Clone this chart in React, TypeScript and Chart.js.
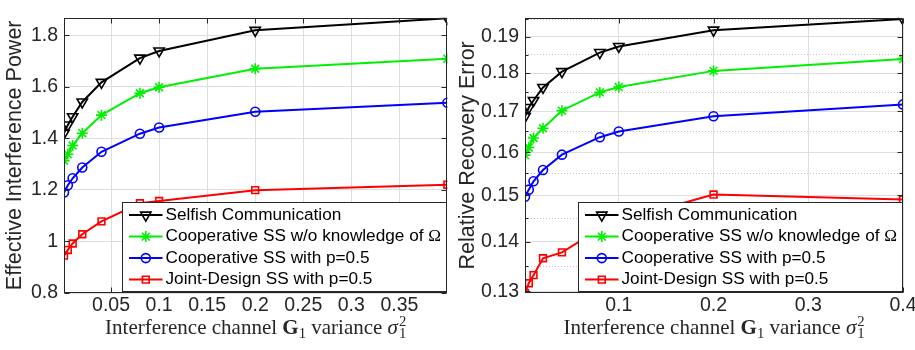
import React, { useEffect, useRef } from 'react';
import { Chart, registerables } from 'chart.js';

Chart.register(...registerables);

// ---------- data ----------
const sigma2 = [0.001, 0.005, 0.01, 0.02, 0.04, 0.08, 0.1, 0.2, 0.4];

const seriesLabels = [
  'Selfish Communication',
  'Cooperative SS w/o knowledge of Ω',
  'Cooperative SS with p=0.5',
  'Joint-Design SS with p=0.5',
];

// left panel: effective interference power
const selfishPower = [1.42, 1.452, 1.484, 1.541, 1.617, 1.711, 1.739, 1.819, 1.866];
const coopNoKnowPower = [1.313, 1.338, 1.372, 1.42, 1.49, 1.575, 1.598, 1.67, 1.709];
const coopPower = [1.19, 1.218, 1.245, 1.287, 1.348, 1.418, 1.442, 1.503, 1.538];
const jointPower = [0.945, 0.967, 0.992, 1.028, 1.078, 1.148, 1.157, 1.199, 1.22];

// right panel: relative recovery error (log y)
const selfishErr = [0.1687, 0.171, 0.1728, 0.1762, 0.1804, 0.1856, 0.1873, 0.1919, 0.1951];
const coopNoKnowErr = [0.1593, 0.1611, 0.1634, 0.1658, 0.1702, 0.1749, 0.1763, 0.1806, 0.1838];
const coopErr = [0.1497, 0.1513, 0.1532, 0.1558, 0.1594, 0.1636, 0.165, 0.1688, 0.1718];
const jointErr = [0.1297, 0.1316, 0.1332, 0.1366, 0.1378, 0.1427, 0.1444, 0.1502, 0.1491];

const powerYTicks = [0.8, 1, 1.2, 1.4, 1.6, 1.8];
const powerXTicks = [0.05, 0.1, 0.15, 0.2, 0.25, 0.3, 0.35];
const errorYTicks = [0.13, 0.14, 0.15, 0.16, 0.17, 0.18, 0.19];
const errorYMinorTicks = [0.135, 0.145, 0.155, 0.165, 0.175, 0.185, 0.195];
const errorXTicks = [0.1, 0.2, 0.3, 0.4];

const yTitleLeft = 'Effective Interference Power';
const yTitleRight = 'Relative Recovery Error';
const xTitleParts = ['Interference channel ', 'G', '1', ' variance ', 'σ', '1', '2'];

// ---------- styles ----------
const SANS = '"Liberation Sans", Arial, Helvetica, sans-serif';
const SERIF = '"Liberation Serif", "Times New Roman", serif';
const AXIS = '#262626';
const GRID = '#dedede';
const MINOR_GRID = '#c4c4c4';

const seriesStyle = [
  { color: '#000000', point: 'triangle', rot: 180, r: 6 },
  { color: '#00f000', point: 'star', rot: 0, r: 5.5 },
  { color: '#0000ff', point: 'circle', rot: 0, r: 4.5 },
  { color: '#ff0000', point: 'rect', rot: 0, r: 4.8 },
];

function makeDatasets(series: number[][]) {
  return series.map((vals, i) => ({
    label: seriesLabels[i],
    data: sigma2.map((x, j) => ({ x, y: vals[j] })),
    borderColor: seriesStyle[i].color,
    backgroundColor: seriesStyle[i].color,
    borderWidth: 2,
    pointStyle: seriesStyle[i].point,
    pointRotation: seriesStyle[i].rot,
    pointRadius: seriesStyle[i].r,
    pointBorderWidth: 1.6,
    pointBorderColor: seriesStyle[i].color,
    pointBackgroundColor: 'rgba(0,0,0,0)',
    tension: 0,
  }));
}

function drawMarker(ctx: CanvasRenderingContext2D, style: string, x: number, y: number, r: number) {
  ctx.beginPath();
  if (style === 'triangle') {
    const s = r * Math.sin(Math.PI / 3);
    ctx.moveTo(x, y + r);
    ctx.lineTo(x - s, y - r / 2);
    ctx.lineTo(x + s, y - r / 2);
    ctx.closePath();
  } else if (style === 'star') {
    const d = r * Math.SQRT1_2;
    ctx.moveTo(x, y - r);
    ctx.lineTo(x, y + r);
    ctx.moveTo(x - r, y);
    ctx.lineTo(x + r, y);
    ctx.moveTo(x - d, y - d);
    ctx.lineTo(x + d, y + d);
    ctx.moveTo(x - d, y + d);
    ctx.lineTo(x + d, y - d);
  } else if (style === 'circle') {
    ctx.arc(x, y, r, 0, Math.PI * 2);
  } else {
    const s = r * Math.SQRT1_2;
    ctx.rect(x - s, y - s, 2 * s, 2 * s);
  }
  ctx.stroke();
}

const isMinor = (v: number) => errorYMinorTicks.some((m) => Math.abs(m - v) < 1e-9);

// frame, inward ticks, legend and x-title
const decorPlugin = {
  id: 'matlabDecor',
  afterDraw(chart: any) {
    const ctx: CanvasRenderingContext2D = chart.ctx;
    const a = chart.chartArea;
    const xs = chart.scales.x;
    const ys = chart.scales.y;
    const L = Math.round(a.left) + 0.5;
    const R = Math.round(a.right) - 0.5;
    const T = Math.round(a.top) + 0.5;
    const B = Math.round(a.bottom) - 0.5;
    ctx.save();
    // ticks
    ctx.strokeStyle = AXIS;
    ctx.lineWidth = 1;
    ctx.beginPath();
    xs.ticks.forEach((t: any) => {
      const px = Math.round(xs.getPixelForValue(t.value)) + 0.5;
      ctx.moveTo(px, B);
      ctx.lineTo(px, B - 5);
      ctx.moveTo(px, T);
      ctx.lineTo(px, T + 5);
    });
    ys.ticks.forEach((t: any) => {
      const len = ys.type === 'logarithmic' && isMinor(t.value) ? 3 : 5;
      const py = Math.round(ys.getPixelForValue(t.value)) + 0.5;
      ctx.moveTo(L, py);
      ctx.lineTo(L + len, py);
      ctx.moveTo(R, py);
      ctx.lineTo(R - len, py);
    });
    ctx.stroke();
    // frame
    ctx.strokeRect(L, T, R - L, B - T);

    // legend
    const fs = 17.2;
    const font = `${fs}px ${SANS}`;
    const omegaFont = `${fs}px ${SERIF}`;
    const labels: string[] = chart.data.datasets.map((d: any) => d.label);
    const measure = (s: string) => {
      if (s.endsWith('Ω')) {
        ctx.font = font;
        const w1 = ctx.measureText(s.slice(0, -1)).width;
        ctx.font = omegaFont;
        return w1 + ctx.measureText('Ω').width;
      }
      ctx.font = font;
      return ctx.measureText(s).width;
    };
    const maxW = Math.max(...labels.map(measure));
    const rowH = 21.5;
    const boxW = Math.round(43 + maxW + 5);
    const boxH = Math.round(4 * rowH + 3);
    const bx = Math.round(a.right - 1 - boxW) + 0.5;
    const by = Math.round(a.bottom - 2 - boxH) + 0.5;
    ctx.fillStyle = '#ffffff';
    ctx.fillRect(bx, by, boxW, boxH);
    ctx.strokeStyle = AXIS;
    ctx.lineWidth = 1;
    ctx.strokeRect(bx, by, boxW, boxH);
    labels.forEach((lab, i) => {
      const cy = by + 12.6 + i * rowH;
      const st = seriesStyle[i];
      ctx.strokeStyle = st.color;
      ctx.lineWidth = 2;
      ctx.beginPath();
      ctx.moveTo(bx + 6.5, cy);
      ctx.lineTo(bx + 40, cy);
      ctx.stroke();
      ctx.lineWidth = 1.6;
      drawMarker(ctx, st.point, bx + 23.3, cy, st.r);
      ctx.fillStyle = '#000000';
      ctx.textBaseline = 'middle';
      ctx.textAlign = 'left';
      const tx = bx + 43;
      if (lab.endsWith('Ω')) {
        ctx.font = font;
        const pre = lab.slice(0, -1);
        ctx.fillText(pre, tx, cy);
        const w = ctx.measureText(pre).width;
        ctx.font = omegaFont;
        ctx.fillText('Ω', tx + w, cy);
      } else {
        ctx.font = font;
        ctx.fillText(lab, tx, cy);
      }
    });

    // x-axis title (LaTeX-like)
    const ts = 21;
    const nf = `${ts}px ${SERIF}`;
    const bf = `bold ${ts}px ${SERIF}`;
    const itf = `italic ${ts}px ${SERIF}`;
    const sf = `${ts * 0.7}px ${SERIF}`;
    const [p0, pG, pG1, p1, pS, pS1, pS2] = xTitleParts;
    ctx.font = nf;
    const w0 = ctx.measureText(p0).width;
    const w1 = ctx.measureText(p1).width;
    ctx.font = bf;
    const wG = ctx.measureText(pG).width;
    ctx.font = itf;
    const wS = ctx.measureText(pS).width;
    ctx.font = sf;
    const wG1 = ctx.measureText(pG1).width;
    const wS12 = Math.max(ctx.measureText(pS1).width, ctx.measureText(pS2).width);
    const total = w0 + wG + wG1 + w1 + wS + 1 + wS12;
    let x = (a.left + a.right) / 2 - total / 2;
    const base = 333.5;
    ctx.fillStyle = AXIS;
    ctx.textBaseline = 'alphabetic';
    ctx.font = nf;
    ctx.fillText(p0, x, base);
    x += w0;
    ctx.font = bf;
    ctx.fillText(pG, x, base);
    x += wG;
    ctx.font = sf;
    ctx.fillText(pG1, x, base + 4);
    x += wG1;
    ctx.font = nf;
    ctx.fillText(p1, x, base);
    x += w1;
    ctx.font = itf;
    ctx.fillText(pS, x, base);
    x += wS + 1;
    ctx.font = sf;
    ctx.fillText(pS1, x, base + 4);
    ctx.fillText(pS2, x, base - 8);
    ctx.restore();
  },
};

const tickFont = { family: SANS, size: 19.5 };
const titleFont = { family: SANS, size: 21.5 };

function leftConfig(): any {
  return {
    type: 'line',
    data: { datasets: makeDatasets([selfishPower, coopNoKnowPower, coopPower, jointPower]) },
    plugins: [decorPlugin],
    options: {
      animation: false,
      responsive: false,
      devicePixelRatio: 1,
      layout: { padding: { top: 11, right: 5, left: 0, bottom: 0 } },
      plugins: { legend: { display: false }, tooltip: { enabled: false } },
      scales: {
        x: {
          type: 'linear',
          min: sigma2[0],
          max: 0.4,
          afterBuildTicks: (s: any) => {
            s.ticks = powerXTicks.map((v) => ({ value: v }));
          },
          afterFit: (s: any) => {
            s.height = 57;
          },
          ticks: { font: tickFont, color: AXIS, padding: 1, maxRotation: 0, autoSkip: false, callback: (v: any) => String(v) },
          grid: { color: GRID, drawTicks: false, lineWidth: 1 },
          border: { display: false },
        },
        y: {
          type: 'linear',
          min: 0.8,
          max: 1.868,
          afterBuildTicks: (s: any) => {
            s.ticks = powerYTicks.map((v) => ({ value: v }));
          },
          afterFit: (s: any) => {
            s.width = 64;
          },
          ticks: { font: tickFont, color: AXIS, padding: 6, autoSkip: false, callback: (v: any) => String(v) },
          grid: { color: GRID, drawTicks: false, lineWidth: 1 },
          border: { display: false },
          title: { display: true, text: yTitleLeft, font: titleFont, color: AXIS, padding: { top: 2, bottom: 0 } },
        },
      },
    },
  };
}

function rightConfig(): any {
  return {
    type: 'line',
    data: { datasets: makeDatasets([selfishErr, coopNoKnowErr, coopErr, jointErr]) },
    plugins: [decorPlugin],
    options: {
      animation: false,
      responsive: false,
      devicePixelRatio: 1,
      layout: { padding: { top: 11, right: 27, left: 0, bottom: 0 } },
      plugins: { legend: { display: false }, tooltip: { enabled: false } },
      scales: {
        x: {
          type: 'linear',
          min: sigma2[0],
          max: 0.4,
          afterBuildTicks: (s: any) => {
            s.ticks = errorXTicks.map((v) => ({ value: v }));
          },
          afterFit: (s: any) => {
            s.height = 57;
          },
          ticks: { font: tickFont, color: AXIS, padding: 1, maxRotation: 0, autoSkip: false, callback: (v: any) => String(v) },
          grid: { color: GRID, drawTicks: false, lineWidth: 1 },
          border: { display: false },
        },
        y: {
          type: 'logarithmic',
          min: 0.1297,
          max: 0.1955,
          afterBuildTicks: (s: any) => {
            s.ticks = [...errorYTicks, ...errorYMinorTicks]
              .filter((v) => v <= 0.1955)
              .sort((p, q) => p - q)
              .map((v) => ({ value: v }));
          },
          afterFit: (s: any) => {
            s.width = 70;
          },
          ticks: {
            font: tickFont,
            color: AXIS,
            padding: 6,
            autoSkip: false,
            callback: (v: any) => (isMinor(Number(v)) ? '' : Number(v).toFixed(2)),
          },
          grid: {
            drawTicks: false,
            lineWidth: 1,
            color: (c: any) => (c.tick && isMinor(c.tick.value) ? MINOR_GRID : GRID),
          },
          border: {
            display: false,
            dash: (c: any) => (c.tick && isMinor(c.tick.value) ? [1, 2] : []),
          },
          title: { display: true, text: yTitleRight, font: titleFont, color: AXIS, padding: { top: 0.5, bottom: 0 } },
        },
      },
    },
  };
}

function ChartCanvas({ make, width, height }: { make: () => any; width: number; height: number }) {
  const ref = useRef<HTMLCanvasElement>(null);
  useEffect(() => {
    const chart = new Chart(ref.current as HTMLCanvasElement, make());
    return () => chart.destroy();
  }, [make]);
  return <canvas ref={ref} width={width} height={height} style={{ display: 'block', width, height }} />;
}

export default function App() {
  return (
    <div
      style={{
        position: 'fixed',
        left: 0,
        top: 0,
        width: 915,
        height: 350,
        overflow: 'hidden',
        background: '#ffffff',
      }}
    >
      <div style={{ position: 'absolute', left: 0, top: 0, width: 455, height: 350 }}>
        <ChartCanvas make={leftConfig} width={455} height={350} />
      </div>
      <div style={{ position: 'absolute', left: 455, top: 0, width: 475, height: 350 }}>
        <ChartCanvas make={rightConfig} width={475} height={350} />
      </div>
    </div>
  );
}
